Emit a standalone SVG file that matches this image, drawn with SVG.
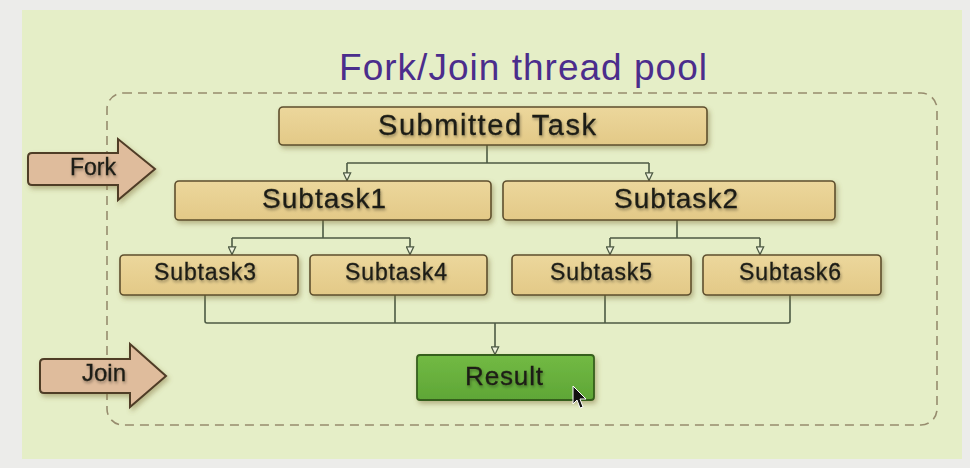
<svg xmlns="http://www.w3.org/2000/svg" width="970" height="468" viewBox="0 0 970 468">
<defs>
<filter id="sh" x="-10%" y="-20%" width="130%" height="160%"><feDropShadow dx="2" dy="3" stdDeviation="2.5" flood-color="#7a6a30" flood-opacity="0.45"/></filter>
<filter id="ts" x="-5%" y="-20%" width="110%" height="150%"><feDropShadow dx="1" dy="2" stdDeviation="1.5" flood-color="#000" flood-opacity="0.35"/></filter>
<linearGradient id="tan" x1="0" y1="0" x2="0" y2="1"><stop offset="0" stop-color="#ecd79c"/><stop offset="1" stop-color="#e3c987"/></linearGradient>
<linearGradient id="grn" x1="0" y1="0" x2="0" y2="1"><stop offset="0" stop-color="#72ba44"/><stop offset="1" stop-color="#5fa636"/></linearGradient>
<marker id="ah" viewBox="0 0 10 10" refX="10" refY="5" markerWidth="10" markerHeight="9" markerUnits="userSpaceOnUse" orient="auto">
<path d="M1,1 L9.5,5 L1,9 Z" fill="#eef2dc" stroke="#4d5a44" stroke-width="1.4"/>
</marker>
</defs>
<style>
.box{fill:url(#tan);stroke:#5e4f2e;stroke-width:1.6;filter:url(#sh)}
.res{fill:url(#grn);stroke:#355f1d;stroke-width:1.8;filter:url(#sh)}
.arr{fill:#dfbc9c;stroke:#4f3c28;stroke-width:2;filter:url(#sh)}
.t{font-family:"Liberation Sans",Arial,sans-serif;fill:#1e1e16;stroke:#1e1e16;stroke-width:0.3;text-anchor:middle;filter:url(#ts)}
.c{fill:none;stroke:#4d5a44;stroke-width:1.6}
</style>
<rect x="0" y="0" width="970" height="468" fill="#ececea"/>
<rect x="22" y="10" width="940" height="449" fill="#e5eec7"/>
<text x="523" y="80" font-family="'Liberation Sans',Arial,sans-serif" font-size="37" fill="#4b2d8c" text-anchor="middle" textLength="368" lengthAdjust="spacing">Fork/Join thread pool</text>
<rect x="107" y="93" width="830" height="332" rx="16" fill="none" stroke="#978c6e" stroke-width="1.6" stroke-dasharray="9 6"/>

<g id="connectors">
<path class="c" d="M487,145 V163 M347,163 H649" />
<path class="c" d="M347,163 V181" marker-end="url(#ah)"/>
<path class="c" d="M649,163 V181" marker-end="url(#ah)"/>
<path class="c" d="M323,220 V238 M232,238 H410"/>
<path class="c" d="M232,238 V255" marker-end="url(#ah)"/>
<path class="c" d="M410,238 V255" marker-end="url(#ah)"/>
<path class="c" d="M677,220 V238 M610,238 H760"/>
<path class="c" d="M610,238 V255" marker-end="url(#ah)"/>
<path class="c" d="M760,238 V255" marker-end="url(#ah)"/>
<path class="c" d="M205,295 V321 Q205,323 207,323 H788 Q790,323 790,321 V295 M395,295 V323 M605,295 V323"/>
<path class="c" d="M495,323 V355" marker-end="url(#ah)"/>
</g>

<g id="fork">
<path class="arr" d="M32,153 H118 V139 L155,169 L118,200 V185 H32 Q28,185 28,181 V157 Q28,153 32,153 Z"/>
<text class="t" x="93" y="175" font-size="23">Fork</text>
</g>
<g id="join">
<path class="arr" d="M44,359 H130 V344 L166,376 L130,407 V393 H44 Q40,393 40,389 V363 Q40,359 44,359 Z"/>
<text class="t" x="104" y="381" font-size="24">Join</text>
</g>

<g id="submitted">
<rect class="box" x="279" y="107" width="428" height="38" rx="4"/>
<text class="t" x="487" y="135" font-size="29" textLength="218" lengthAdjust="spacing">Submitted Task</text>
</g>
<g id="subtask1">
<rect class="box" x="175" y="181" width="316" height="39" rx="4"/>
<text class="t" x="324" y="208" font-size="28" textLength="124" lengthAdjust="spacing">Subtask1</text>
</g>
<g id="subtask2">
<rect class="box" x="503" y="181" width="332" height="39" rx="4"/>
<text class="t" x="676" y="208" font-size="28" textLength="124" lengthAdjust="spacing">Subtask2</text>
</g>
<g id="subtask3">
<rect class="box" x="120" y="255" width="178" height="40" rx="4"/>
<text class="t" x="205" y="280" font-size="23" textLength="102" lengthAdjust="spacing">Subtask3</text>
</g>
<g id="subtask4">
<rect class="box" x="310" y="255" width="177" height="40" rx="4"/>
<text class="t" x="396" y="280" font-size="23" textLength="102" lengthAdjust="spacing">Subtask4</text>
</g>
<g id="subtask5">
<rect class="box" x="512" y="255" width="179" height="40" rx="4"/>
<text class="t" x="601" y="280" font-size="23" textLength="102" lengthAdjust="spacing">Subtask5</text>
</g>
<g id="subtask6">
<rect class="box" x="703" y="255" width="178" height="40" rx="4"/>
<text class="t" x="790" y="280" font-size="23" textLength="102" lengthAdjust="spacing">Subtask6</text>
</g>
<g id="result">
<rect class="res" x="417" y="355" width="177" height="45" rx="3"/>
<text class="t" x="504" y="385" font-size="26" textLength="78" lengthAdjust="spacing" fill="#102008">Result</text>
</g>
<path d="M573,386 L573,404 L577,400 L580,408 L583,407 L580,399 L586,399 Z" fill="#111" stroke="#fff" stroke-width="1"/>
</svg>
